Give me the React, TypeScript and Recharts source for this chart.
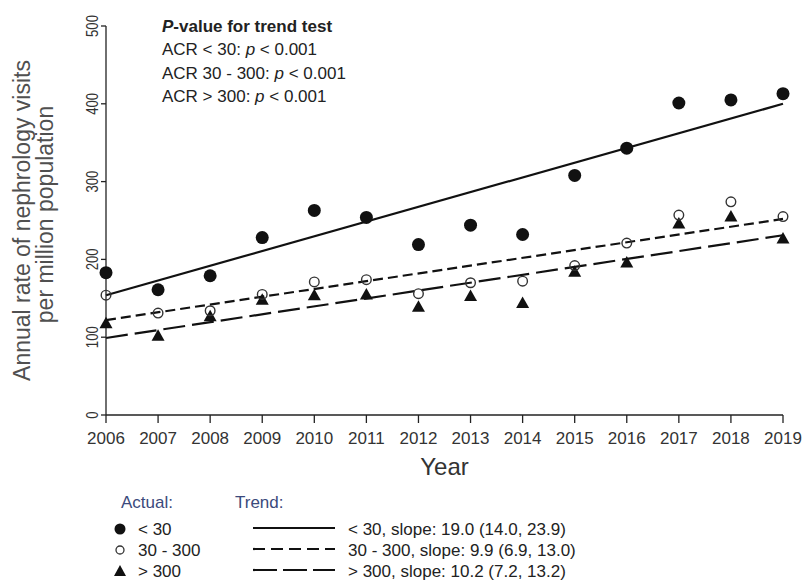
import React from 'react';
import { ComposedChart, Scatter, Line, XAxis, YAxis } from 'recharts';

const years = [2006, 2007, 2008, 2009, 2010, 2011, 2012, 2013, 2014, 2015, 2016, 2017, 2018, 2019];
const acrLow = [183, 161, 179, 228, 263, 254, 219, 244, 232, 308, 343, 401, 405, 413];
const acrMid = [154, 131, 134, 155, 171, 174, 156, 170, 172, 192, 221, 257, 274, 255];
const acrHigh = [118, 102, 127, 148, 154, 155, 139, 153, 144, 184, 196, 246, 255, 227];

// fitted trend lines, read at the two ends
const trendYears = [2006, 2019];
const trendLow = [154, 400];
const trendMid = [122, 252];
const trendHigh = [99, 231];

const yTicks = [0, 100, 200, 300, 400, 500];

const toPoints = (vals: number[]) => years.map((year, i) => ({ year, v: vals[i] }));
const toTrend = (vals: number[]) => trendYears.map((year, i) => ({ year, v: vals[i] }));

const FONT = '"Liberation Sans", Arial, sans-serif';

const FilledDot = (p: any) => <circle cx={p.cx} cy={p.cy} r={6.5} fill="#111" />;
const OpenDot = (p: any) => (
  <circle cx={p.cx} cy={p.cy} r={4.8} fill="none" stroke="#333" strokeWidth={1.4} />
);
const Tri = (p: any) => (
  <path
    d={`M${p.cx},${p.cy - 6.5} L${p.cx + 6.5},${p.cy + 5} L${p.cx - 6.5},${p.cy + 5} Z`}
    fill="#111"
  />
);

// y tick labels are squeezed along their length in the original
const YTick = (p: any) => {
  const label = String(p.payload.value);
  return (
    <text
      x={p.x}
      y={p.y}
      transform={`rotate(-90, ${p.x}, ${p.y})`}
      textAnchor="middle"
      fontSize={16}
      fill="#333"
      fontFamily={FONT}
      textLength={label.length * 7.3}
      lengthAdjust="spacingAndGlyphs"
    >
      {label}
    </text>
  );
};

const YLabel = (p: any) => {
  const vb = p.viewBox || { x: 0, y: 26, width: 106, height: 389 };
  const cy = vb.y + vb.height / 2;
  return (
    <g fill="#505050" fontSize={23} fontFamily={FONT} textAnchor="middle">
      <text transform={`translate(30, ${cy}) rotate(-90)`}>Annual rate of nephrology visits</text>
      <text transform={`translate(53, ${cy - 6}) rotate(-90)`}>per million population</text>
    </g>
  );
};

const XLabel = (p: any) => {
  const vb = p.viewBox || { x: 106, y: 415, width: 677, height: 170 };
  return (
    <text
      x={vb.x + vb.width / 2}
      y={vb.y + 60}
      textAnchor="middle"
      fontSize={24}
      fill="#333"
      fontFamily={FONT}
    >
      Year
    </text>
  );
};

const Overlay = () => (
  <svg
    width={806}
    height={585}
    style={{ position: 'absolute', left: 0, top: 0, pointerEvents: 'none' }}
    fontFamily={FONT}
    fontSize={17}
  >
    <g fill="#222">
      <text x={162} y={32} fontWeight="bold">
        <tspan fontStyle="italic">P</tspan>-value for trend test
      </text>
      <text x={162} y={55}>
        ACR &lt; 30: <tspan fontStyle="italic">p</tspan> &lt; 0.001
      </text>
      <text x={162} y={79}>
        ACR 30 - 300: <tspan fontStyle="italic">p</tspan> &lt; 0.001
      </text>
      <text x={162} y={102}>
        ACR &gt; 300: <tspan fontStyle="italic">p</tspan> &lt; 0.001
      </text>
    </g>

    <text x={121} y={508} fill="#3b4a7c">Actual:</text>
    <text x={235} y={508} fill="#3b4a7c">Trend:</text>

    <circle cx={120} cy={529} r={5.5} fill="#111" />
    <circle cx={120} cy={550} r={4} fill="none" stroke="#333" strokeWidth={1.3} />
    <path d="M120,565 L126,576 L114,576 Z" fill="#111" />
    <g fill="#222">
      <text x={138} y={535}>&lt; 30</text>
      <text x={138} y={556}>30 - 300</text>
      <text x={138} y={577}>&gt; 300</text>
    </g>

    <line x1={253} x2={335} y1={528} y2={528} stroke="#111" strokeWidth={2.2} />
    <line x1={253} x2={335} y1={549} y2={549} stroke="#111" strokeWidth={2.2} strokeDasharray="12 6" />
    <line x1={253} x2={335} y1={570} y2={570} stroke="#111" strokeWidth={2.2} strokeDasharray="24 6" />
    <g fill="#222">
      <text x={348} y={535}>&lt; 30, slope: 19.0 (14.0, 23.9)</text>
      <text x={348} y={556}>30 - 300, slope: 9.9 (6.9, 13.0)</text>
      <text x={348} y={577}>&gt; 300, slope: 10.2 (7.2, 13.2)</text>
    </g>
  </svg>
);

export default function App() {
  return (
    <div style={{ position: 'absolute', left: 0, top: 0, width: 806, height: 585, background: '#fff' }}>
      <ComposedChart width={806} height={585} margin={{ top: 26, right: 23, bottom: 0, left: 0 }}>
        <XAxis
          type="number"
          dataKey="year"
          domain={[2006, 2019]}
          ticks={years}
          interval={0}
          allowDecimals={false}
          height={170}
          tickSize={8}
          tickMargin={9}
          stroke="#222"
          strokeWidth={1.3}
          tick={{ fontSize: 17, fill: '#333', fontFamily: FONT }}
          label={<XLabel />}
        />
        <YAxis
          type="number"
          domain={[0, 500]}
          ticks={yTicks}
          width={106}
          tickSize={5}
          tickMargin={3}
          stroke="#222"
          strokeWidth={1.3}
          tick={<YTick />}
          label={<YLabel />}
        />
        <Line
          data={toTrend(trendLow)}
          dataKey="v"
          stroke="#111"
          strokeWidth={2.2}
          dot={false}
          isAnimationActive={false}
        />
        <Line
          data={toTrend(trendMid)}
          dataKey="v"
          stroke="#111"
          strokeWidth={2.2}
          strokeDasharray="10 5"
          dot={false}
          isAnimationActive={false}
        />
        <Line
          data={toTrend(trendHigh)}
          dataKey="v"
          stroke="#111"
          strokeWidth={2.2}
          strokeDasharray="22 7"
          dot={false}
          isAnimationActive={false}
        />
        <Scatter data={toPoints(acrLow)} dataKey="v" shape={FilledDot} isAnimationActive={false} />
        <Scatter data={toPoints(acrHigh)} dataKey="v" shape={Tri} isAnimationActive={false} />
        <Scatter data={toPoints(acrMid)} dataKey="v" shape={OpenDot} isAnimationActive={false} />
      </ComposedChart>
      <Overlay />
    </div>
  );
}
